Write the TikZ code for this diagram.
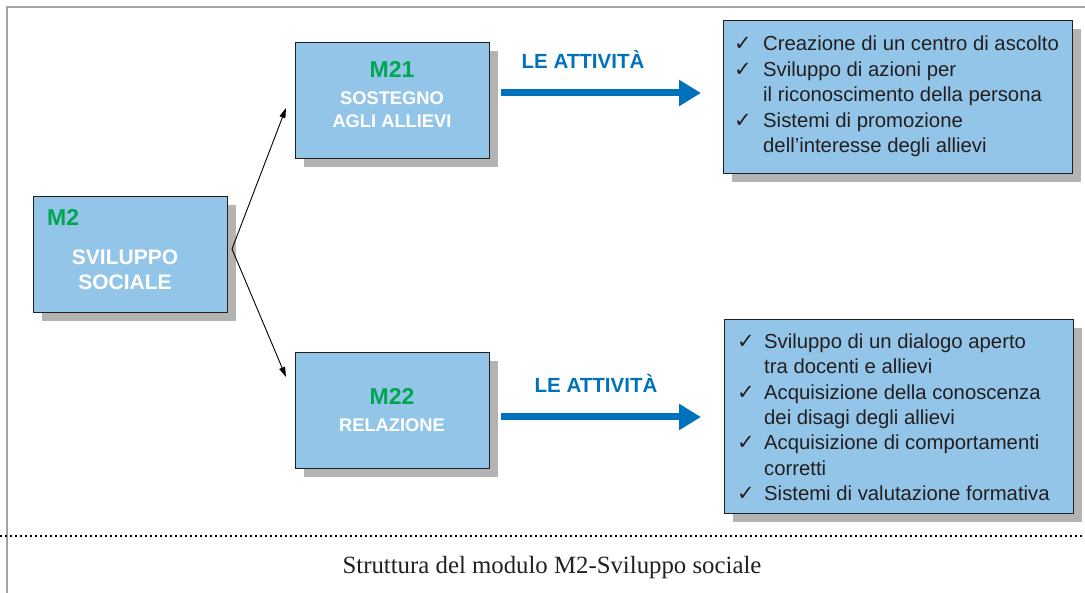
\documentclass[tikz,border=0pt]{standalone}
\usepackage{fontspec}
\setmainfont{Liberation Serif}
\newfontfamily\hvfont{Liberation Sans}
\newfontfamily\chkfont{DejaVu Sans}
\usetikzlibrary{arrows.meta,shadows}
\definecolor{boxblue}{HTML}{93C5E9}
\definecolor{shadowgray}{HTML}{B3B3B3}
\definecolor{framegray}{HTML}{A3A3A3}
\definecolor{mgreen}{HTML}{00A651}
\definecolor{actblue}{HTML}{0072BC}
\definecolor{txt}{HTML}{231F20}
\tikzset{
  box/.style={draw=txt, line width=1.1pt, fill=boxblue, anchor=north west, inner sep=0pt,
    drop shadow={shadow xshift=8pt, shadow yshift=-8pt, fill=shadowgray, opacity=1}},
  code/.style={anchor=base, text=mgreen, font=\hvfont\bfseries\fontsize{23}{26}\selectfont},
  title/.style={anchor=base, text=white, font=\hvfont\bfseries\fontsize{18.3}{22}\selectfont},
  bigtitle/.style={anchor=base, text=white, font=\hvfont\bfseries\fontsize{21}{25}\selectfont},
  act/.style={anchor=base, text=actblue, font=\hvfont\bfseries\fontsize{20.5}{24}\selectfont},
  actarrow/.style={draw=actblue, line width=7pt, -{Triangle[length=22pt,width=25pt]}},
  fork/.style={draw=black, line width=0.9pt, -{Triangle[length=10pt,width=6pt]}},
  item/.style={anchor=base west, text=txt, inner sep=0pt, font=\hvfont\fontsize{20.3}{24}\selectfont},
  chk/.style={anchor=base west, text=txt, inner sep=0pt, font=\chkfont\fontsize{21}{24}\selectfont},
}
\begin{document}
\begin{tikzpicture}[x=1pt,y=-1pt]
\useasboundingbox (0,0) rectangle (1085,593);
% frame
\draw[framegray, line width=1.6pt] (7,593) -- (7,7) -- (1085,7);
\draw[black, line width=1.6pt, dash pattern=on 1.6pt off 3.4pt] (0,536) -- (1085,536);
\node[anchor=base, text=txt, font=\fontsize{24.8}{28}\selectfont] (cap) at (552,573.3) {Struttura del modulo M2-Sviluppo sociale};

% boxes
\node[box, minimum width=194pt, minimum height=116pt] (m2) at (33,196) {};
\node[box, minimum width=194pt, minimum height=116pt] (m21) at (295,42) {};
\node[box, minimum width=194pt, minimum height=116pt] (m22) at (295,352) {};
\node[box, minimum width=349pt, minimum height=153pt] (r1) at (723,20) {};
\node[box, minimum width=349pt, minimum height=194pt] (r2) at (724,319) {};

% box texts
\node[code, anchor=base west, inner sep=0pt] (m2c) at (47,226) {M2};
\node[bigtitle] (m2t1) at (125,265) {SVILUPPO};
\node[bigtitle] (m2t2) at (125,290) {SOCIALE};
\node[code] (m21c) at (392,78) {M21};
\node[title] (m21t1) at (392,105) {SOSTEGNO};
\node[title] (m21t2) at (392,128) {AGLI ALLIEVI};
\node[code] (m22c) at (392,405) {M22};
\node[title] (m22t1) at (392,432) {RELAZIONE};

% fork arrows
\coordinate (forkpt) at (232,249);
\coordinate (tip1) at (286,108);
\coordinate (tip2) at (286,377);
\draw[fork] (forkpt) -- (tip1);
\draw[fork] (forkpt) -- (tip2);

% activity arrows
\node[act] (act1) at (583,69) {LE ATTIVITÀ};
\node[act] (act2) at (596,393) {LE ATTIVITÀ};
\coordinate (a1s) at (501,93);
\coordinate (a1e) at (701,93);
\coordinate (a2s) at (501,417);
\coordinate (a2e) at (701,417);
\draw[actarrow] (a1s) -- (a1e);
\draw[actarrow] (a2s) -- (a2e);

% list 1
\node[chk] (c11) at (734,50.7) {✓};
\node[item] (l11) at (763,50.7) {Creazione di un centro di ascolto};
\node[chk] (c12) at (734,76.7) {✓};
\node[item] (l12) at (763,76.7) {Sviluppo di azioni per};
\node[item] (l13) at (763,101.7) {il riconoscimento della persona};
\node[chk] (c14) at (734,127.3) {✓};
\node[item] (l14) at (763,127.3) {Sistemi di promozione};
\node[item] (l15) at (763,152.7) {dell’interesse degli allievi};

% list 2
\node[chk] (c21) at (737,349) {✓};
\node[item] (l21) at (764,349) {Sviluppo di un dialogo aperto};
\node[item] (l22) at (764,374) {tra docenti e allievi};
\node[chk] (c23) at (737,399.3) {✓};
\node[item] (l23) at (764,399.3) {Acquisizione della conoscenza};
\node[item] (l24) at (764,425) {dei disagi degli allievi};
\node[chk] (c25) at (737,450) {✓};
\node[item] (l25) at (764,450) {Acquisizione di comportamenti};
\node[item] (l26) at (764,475.7) {corretti};
\node[chk] (c27) at (737,500.7) {✓};
\node[item] (l27) at (764,500.7) {Sistemi di valutazione formativa};
\end{tikzpicture}
\end{document}
